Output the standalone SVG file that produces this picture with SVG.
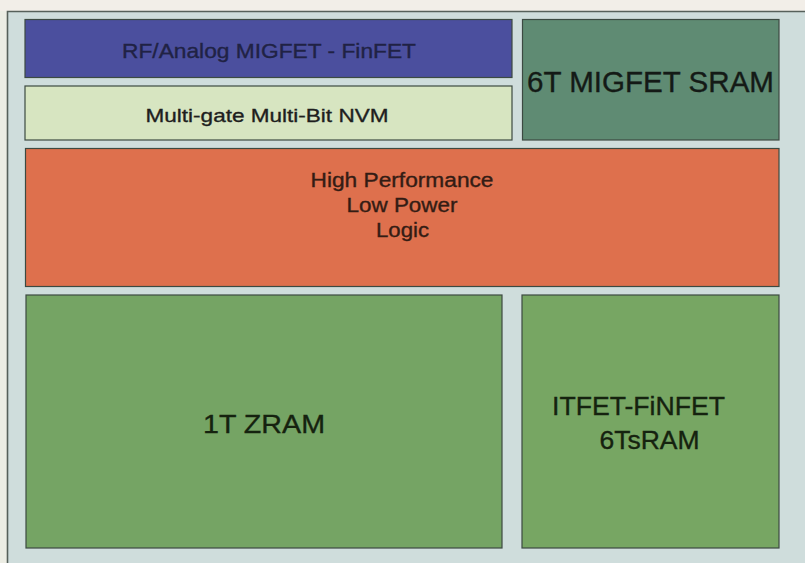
<svg xmlns="http://www.w3.org/2000/svg" width="805" height="563" viewBox="0 0 805 563">
<style>
.box{stroke:#3c4a42;stroke-width:1.2}
.t{font-family:"Liberation Sans",Arial,sans-serif;text-anchor:middle;stroke-width:0.35;paint-order:stroke}
</style>
<rect x="0" y="0" width="805" height="563" fill="#ecede4"/>
<rect x="0" y="0" width="805" height="11" fill="#f2eee8"/>
<rect x="8" y="12" width="797" height="551" fill="#cfdddc"/>
<path d="M7.5 563 V11.5 H805" fill="none" stroke="#56605a" stroke-width="1.6"/>
<g id="rf-analog">
<rect class="box" x="25" y="19.5" width="487" height="58" fill="#4b4f9e"/>
<text class="t" x="269" y="57.5" font-size="21" fill="#202244" stroke="#202244" textLength="294" lengthAdjust="spacingAndGlyphs">RF/Analog MIGFET - FinFET</text>
</g>
<g id="nvm">
<rect class="box" x="25" y="86" width="487" height="54" fill="#d7e5c1"/>
<text class="t" x="267" y="121.5" font-size="19" fill="#1e1e1e" stroke="#1e1e1e" textLength="243" lengthAdjust="spacingAndGlyphs">Multi-gate Multi-Bit NVM</text>
</g>
<g id="sram6t">
<rect class="box" x="522.5" y="19.5" width="256.5" height="120.5" fill="#5f8b73"/>
<text class="t" x="650.5" y="92" font-size="29" fill="#141a16" stroke="#141a16" textLength="247" lengthAdjust="spacingAndGlyphs">6T MIGFET SRAM</text>
</g>
<g id="logic">
<rect class="box" x="25.5" y="148.5" width="753.5" height="138" fill="#de704d"/>
<text class="t" x="402" y="186.5" font-size="20" fill="#331c14" stroke="#331c14" textLength="183" lengthAdjust="spacingAndGlyphs">High Performance</text>
<text class="t" x="402" y="211.5" font-size="20" fill="#331c14" stroke="#331c14" textLength="111" lengthAdjust="spacingAndGlyphs">Low Power</text>
<text class="t" x="402.5" y="236.5" font-size="20" fill="#331c14" stroke="#331c14" textLength="53" lengthAdjust="spacingAndGlyphs">Logic</text>
</g>
<g id="zram">
<rect class="box" x="26" y="295" width="476" height="253" fill="#75a464"/>
<text class="t" x="264" y="433" font-size="26" fill="#15220f" stroke="#15220f" textLength="122" lengthAdjust="spacingAndGlyphs">1T ZRAM</text>
</g>
<g id="itfet">
<rect class="box" x="522" y="295" width="257" height="253" fill="#77a663"/>
<text class="t" x="638.5" y="415" font-size="26.5" fill="#15220f" stroke="#15220f" textLength="173" lengthAdjust="spacingAndGlyphs">ITFET-FiNFET</text>
<text class="t" x="649.5" y="449" font-size="26.5" fill="#15220f" stroke="#15220f">6TsRAM</text>
</g>
</svg>
